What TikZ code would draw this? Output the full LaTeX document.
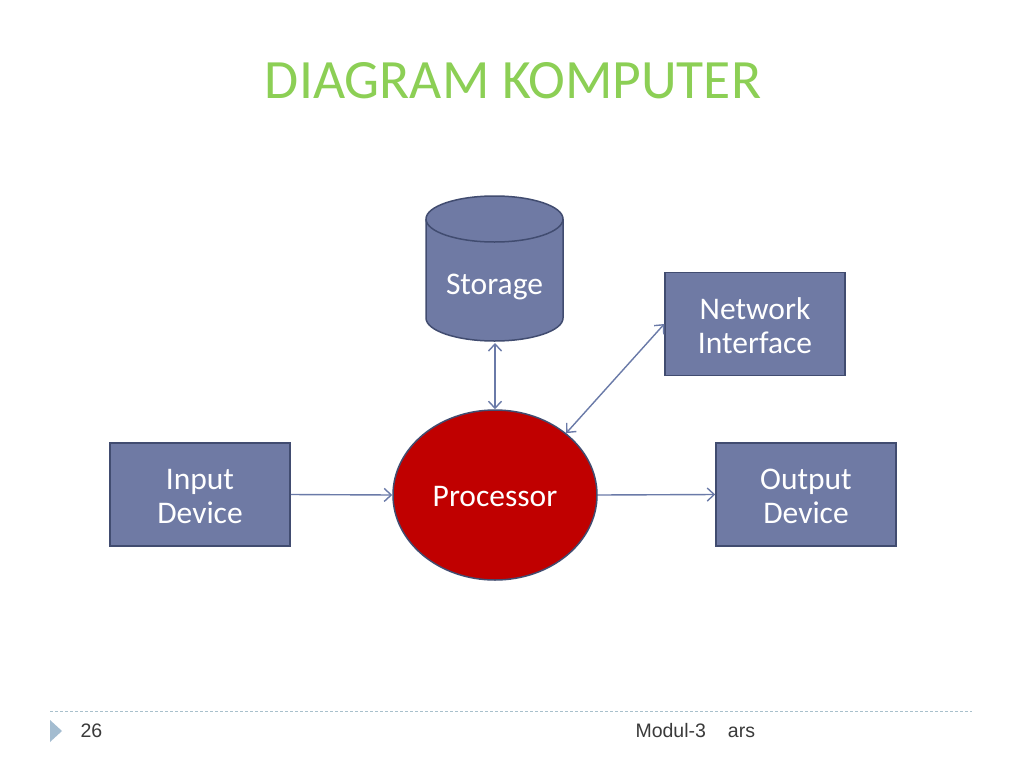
\documentclass[tikz,border=0pt]{standalone}
\usepackage{fontspec}
\setmainfont{Carlito}
\newfontfamily\footfont{Liberation Sans}
\usetikzlibrary{arrows.meta,shapes.geometric}
\definecolor{boxfill}{HTML}{6F7AA4}
\definecolor{boxline}{HTML}{414C70}
\definecolor{procfill}{HTML}{C00000}
\definecolor{arrowcol}{HTML}{6A7AA8}
\definecolor{titlegreen}{HTML}{8CCF55}
\definecolor{footline}{HTML}{A9C0CC}
\definecolor{foottri}{HTML}{A3BCD0}
\definecolor{foottext}{HTML}{3A3A3A}
\tikzset{
  blockbox/.style={draw=boxline, fill=boxfill, line width=1.5pt, minimum width=180pt, minimum height=103pt},
  boxtext/.style={text=white, font=\fontsize{31.5}{34}\selectfont, align=center, inner sep=0pt},
  conn/.style={draw=arrowcol, line width=1.4pt, -{Straight Barb[length=7pt,width=13pt,line width=1.4pt]}},
  conn2/.style={draw=arrowcol, line width=1.4pt, {Straight Barb[length=7pt,width=13pt,line width=1.4pt]}-{Straight Barb[length=7pt,width=13pt,line width=1.4pt]}},
}
\begin{document}
\begin{tikzpicture}[x=1pt,y=-1pt]
\useasboundingbox[fill=white] (0,0) rectangle (1024,768);
% title
\node[text=titlegreen, font=\fontsize{55.5}{60}\selectfont] (title) at (513,81) {DIAGRAM KOMPUTER};
% storage cylinder
\draw[draw=boxline, fill=boxfill, line width=1.5pt]
  (426,219) -- (426,318) arc[start angle=180, end angle=0, x radius=68.5, y radius=23] -- (563,219) arc[start angle=0, end angle=-180, x radius=68.5, y radius=23] -- cycle;
\draw[draw=boxline, line width=1.5pt] (426,219) arc[start angle=180, end angle=0, x radius=68.5, y radius=23];
\node[boxtext] (storage) at (494.5,287) {Storage};
\coordinate (storebot) at (495,343);
% boxes
\node[blockbox] (net) at (755,324) {};
\node[blockbox] (in) at (200,494.5) {};
\node[blockbox] (out) at (806,494.5) {};
\node[boxtext] (nettext) at ([yshift=-2pt]net.center) {Network\\Interface};
\node[boxtext] (intext) at ([yshift=-2pt]in.center) {Input\\Device};
\node[boxtext] (outtext) at ([yshift=-2pt]out.center) {Output\\Device};
% processor
\node[ellipse, draw=boxline, fill=procfill, line width=1.5pt, minimum width=204pt, minimum height=170pt, inner sep=0pt] (proc) at (495,495) {};
\node[boxtext] (proctext) at ([yshift=-2pt]proc.center) {Processor};
% connectors
\draw[conn] (in.east) -- (proc.west);
\draw[conn] (proc.east) -- (out.west);
\draw[conn2] (storebot) -- (proc.north);
\draw[conn2] (proc.41) -- (net.west);
% footer
\draw[footline, line width=1pt, dash pattern=on 3pt off 2pt] (50,711) -- (972,711) coordinate (footend);
\fill[foottri] (50,720) -- (62,731) -- (50,742) -- cycle;
\node[text=foottext, font=\footfont\fontsize{19.5}{22}\selectfont, anchor=west] (pg) at (77,731) {26};
\node[text=foottext, font=\footfont\fontsize{19.5}{22}\selectfont, anchor=west] (mod) at (632,731) {Modul-3\hspace{22pt}ars};
\end{tikzpicture}
\end{document}
